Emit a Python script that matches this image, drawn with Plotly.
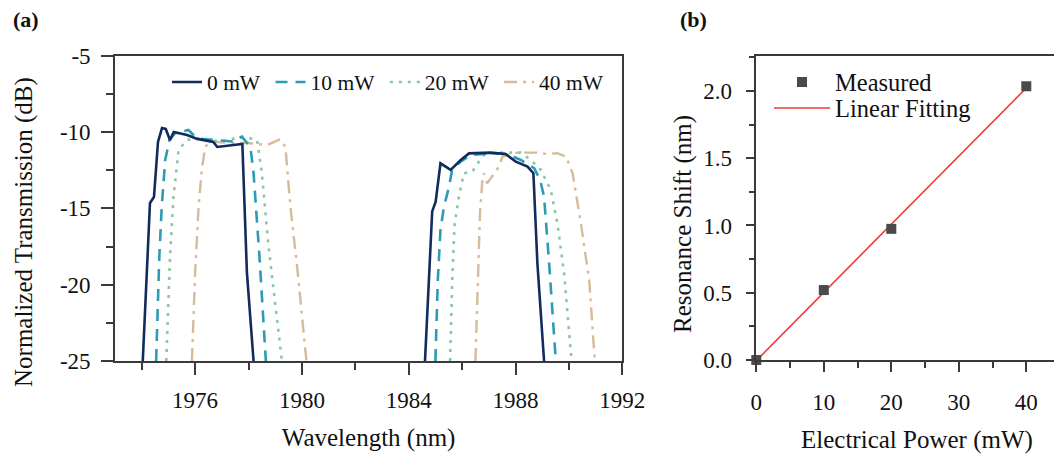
import numpy as np
import plotly.graph_objects as go

# ---------------- data: panel (a) transmission spectra ----------------
wl_0mw = [1974.04, 1974.31, 1974.46, 1974.61, 1974.76, 1974.90, 1975.06, 1975.20, 1975.70, 1976.08,
          1976.68, 1976.83, 1977.77, 1977.94, 1978.19, None,
          1984.61, 1984.88, 1985.01, 1985.19, 1985.57, 1985.95, 1986.26, 1987.07, 1987.63, 1988.01,
          1988.45, 1988.67, 1988.82, 1989.07]
tr_0mw = [-25, -14.65, -14.26, -10.65, -9.74, -9.80, -10.52, -10.00, -10.20, -10.45,
          -10.65, -10.98, -10.78, -19.2, -25, None,
          -25, -15.2, -14.56, -12.05, -12.48, -11.83, -11.40, -11.35, -11.44, -11.94,
          -12.27, -12.70, -18.6, -25]

wl_10mw = [1974.54, 1974.66, 1974.75, 1974.88, 1975.04, 1975.25, 1975.75, 1976.06, 1976.69, 1977.44,
           1977.75, 1978.07, 1978.19, 1978.41, 1978.65, None,
           1985.00, 1985.09, 1985.19, 1985.32, 1985.51, 1985.63, 1985.95, 1986.32, 1987.07, 1987.70,
           1988.20, 1988.70, 1988.92, 1989.07, 1989.26, 1989.51]
tr_10mw = [-25, -18.16, -14.9, -11.83, -10.52, -10.08, -9.87, -10.41, -10.52, -10.63,
           -10.30, -10.96, -12.70, -18.16, -25, None,
           -25, -19.7, -16.4, -14.9, -13.58, -12.44, -11.94, -11.50, -11.39, -11.44,
           -11.83, -12.37, -13.14, -14.23, -18.6, -25]

wl_20mw = [1974.92, 1975.06, 1975.19, 1975.38, 1975.69, 1976.19, 1976.94, 1977.81, 1978.32, 1978.50,
           1978.75, 1979.00, 1979.25, None,
           1985.55, 1985.63, 1985.72, 1985.88, 1986.07, 1986.38, 1986.63, 1986.82, 1987.32, 1988.20,
           1988.57, 1988.95, 1989.32, 1989.57, 1989.82, 1990.10]
tr_20mw = [-25, -18.16, -14.23, -11.18, -10.52, -10.41, -10.63, -10.30, -10.52, -12.70,
           -17.5, -21.4, -25, None,
           -25, -19.7, -16.0, -14.23, -12.70, -12.60, -11.94, -11.50, -11.35, -11.35,
           -11.83, -12.48, -13.80, -16.0, -19.25, -25]

wl_40mw = [1975.88, 1976.00, 1976.13, 1976.25, 1976.38, 1976.56, 1977.19, 1978.07, 1978.69, 1979.19,
           1979.38, 1979.57, 1979.82, 1980.17, None,
           1986.50, 1986.59, 1986.67, 1986.76, 1986.82, 1986.94, 1987.19, 1987.38, 1987.51, 1988.07,
           1988.82, 1989.20, 1989.57, 1989.89, 1990.14, 1990.45, 1990.76, 1990.97]
tr_40mw = [-25, -19.25, -14.9, -12.48, -10.96, -10.63, -10.70, -10.74, -10.85, -10.48,
           -10.96, -14.9, -18.8, -25, None,
           -25, -19.7, -15.3, -13.14, -12.70, -13.36, -12.70, -12.27, -11.61, -11.35,
           -11.35, -11.44, -11.39, -11.61, -12.70, -16.0, -19.7, -25]

series_names = ["0 mW", "10 mW", "20 mW", "40 mW"]

# ---------------- data: panel (b) resonance shift ----------------
power_mw = [0, 10, 20, 40]
shift_nm = [0.0, 0.52, 0.975, 2.035]

# axis ticks
a_y_ticks = [-25, -20, -15, -10, -5]
a_y_ticktext = ["-25", "-20", "-15", "-10", "-5"]

FONT = "Liberation Serif, Times New Roman, serif"
AX = "#3a3a3a"
W, H = 1054, 458

def px_x(p):
    return p / W

def px_y(p):
    return 1 - p / H

fig = go.Figure()

styles = {
    "0 mW": dict(color="#122b5c", dash="solid", width=2.6),
    "10 mW": dict(color="#2e9bb6", dash="12px,8px", width=2.6),
    "20 mW": dict(color="#8cc6a9", dash="3px,6px", width=2.6),
    "40 mW": dict(color="#d5bb98", dash="13px,6px,3px,6px", width=2.4),
}
data_a = {
    "0 mW": (wl_0mw, tr_0mw),
    "10 mW": (wl_10mw, tr_10mw),
    "20 mW": (wl_20mw, tr_20mw),
    "40 mW": (wl_40mw, tr_40mw),
}
for rank, name in reversed(list(enumerate(series_names))):
    x, y = data_a[name]
    fig.add_trace(go.Scatter(
        x=x, y=y, mode="lines", name=name + "\u00a0", line=styles[name],
        connectgaps=False, xaxis="x", yaxis="y", legend="legend",
        legendrank=rank + 1,
    ))

# panel (b)
coef = np.polyfit(power_mw, shift_nm, 1)
fit_x = [min(power_mw), max(power_mw)]
fit_y = [coef[0] * v + coef[1] for v in fit_x]

fig.add_trace(go.Scatter(
    x=fit_x, y=fit_y, mode="lines", name="Linear Fitting",
    line=dict(color="#ee3b3b", width=1.6), xaxis="x2", yaxis="y2", legend="legend3",
))
fig.add_trace(go.Scatter(
    x=power_mw, y=shift_nm, mode="markers", name="Measured",
    marker=dict(symbol="square", size=10, color="#4a4a4a"),
    cliponaxis=False, xaxis="x2", yaxis="y2", legend="legend2",
))

common_axis = dict(
    showline=True, linecolor=AX, linewidth=1.6, showgrid=False, zeroline=False,
    ticks="outside", tickcolor=AX, tickwidth=1.6, automargin=False,
    tickfont=dict(family=FONT, size=23, color="#111"),
)

fig.update_layout(
    template="none",
    width=W, height=H,
    margin=dict(l=0, r=0, t=0, b=0, autoexpand=False),
    paper_bgcolor="white", plot_bgcolor="white",
    font=dict(family=FONT, color="#111"),
    xaxis=dict(
        **common_axis, domain=[px_x(115), px_x(622.3)], range=[1973, 1992],
        tick0=1976, dtick=4, tickformat="d", ticklen=12, mirror=True,
        minor=dict(dtick=2, tick0=1974, ticks="outside", ticklen=7, tickcolor=AX, tickwidth=1.6),
        ticklabelstandoff=6,
        title=dict(text="Wavelength (nm)", font=dict(family=FONT, size=25, color="#111"), standoff=16),
        anchor="y",
    ),
    yaxis=dict(
        **common_axis, domain=[px_y(361), px_y(55.7)], range=[-25, -5],
        tickmode="array", tickvals=a_y_ticks, ticktext=a_y_ticktext, ticklen=12, mirror=True,
        minor=dict(dtick=2.5, tick0=-25, ticks="outside", ticklen=7, tickcolor=AX, tickwidth=1.6),
        ticklabelstandoff=6,
        anchor="x",
    ),
    xaxis2=dict(
        **common_axis, domain=[px_x(756.3), 1.0], range=[0, (W - 756.3) / 6.75],
        tick0=0, dtick=10, ticklen=10, mirror=True,
        minor=dict(dtick=5, tick0=0, ticks="outside", ticklen=6, tickcolor=AX, tickwidth=1.6),
        ticklabelstandoff=11,
        anchor="y2",
    ),
    yaxis2=dict(
        **common_axis, domain=[px_y(360), px_y(56)], range=[0, 2.26],
        tick0=0, dtick=0.5, tickformat=".1f", ticklen=9, mirror=False,
        minor=dict(dtick=0.25, tick0=0, ticks="outside", ticklen=6, tickcolor=AX, tickwidth=1.6),
        ticklabelstandoff=9,
        anchor="x2",
    ),
    legend=dict(
        orientation="h", x=px_x(167), xanchor="left", y=px_y(82), yanchor="middle",
        font=dict(family=FONT, size=21.5, color="#111"), bgcolor="rgba(0,0,0,0)",
        itemwidth=30, traceorder="normal",
    ),
    legend2=dict(
        x=px_x(769), xanchor="left", y=px_y(82), yanchor="middle",
        font=dict(family=FONT, size=24.5, color="#111"), bgcolor="rgba(0,0,0,0)",
        itemwidth=56,
    ),
    legend3=dict(
        x=px_x(769), xanchor="left", y=px_y(108), yanchor="middle",
        font=dict(family=FONT, size=24.5, color="#111"), bgcolor="rgba(0,0,0,0)",
        itemwidth=56,
    ),
    annotations=[
        dict(text="Normalized Transmission (dB)", x=px_x(24), y=px_y(232), xref="paper", yref="paper",
             textangle=-90, showarrow=False, font=dict(family=FONT, size=25, color="#111"),
             xanchor="center", yanchor="middle"),
        dict(text="Resonance Shift (nm)", x=px_x(683), y=px_y(224), xref="paper", yref="paper",
             textangle=-90, showarrow=False, font=dict(family=FONT, size=25, color="#111"),
             xanchor="center", yanchor="middle"),
        dict(text="Electrical Power (mW)", x=px_x(917), y=px_y(440), xref="paper", yref="paper",
             showarrow=False, font=dict(family=FONT, size=25, color="#111"),
             xanchor="center", yanchor="middle"),
        dict(text="<b>(a)</b>", x=px_x(26), y=px_y(20), xref="paper", yref="paper",
             showarrow=False, font=dict(family=FONT, size=22, color="#111"),
             xanchor="center", yanchor="middle"),
        dict(text="<b>(b)</b>", x=px_x(693), y=px_y(20), xref="paper", yref="paper",
             showarrow=False, font=dict(family=FONT, size=22, color="#111"),
             xanchor="center", yanchor="middle"),
    ],
)

fig.write_html(
    "out.html",
    config={"displayModeBar": False},
    post_script="document.body.style.margin='0';document.body.style.overflow='hidden';",
)
